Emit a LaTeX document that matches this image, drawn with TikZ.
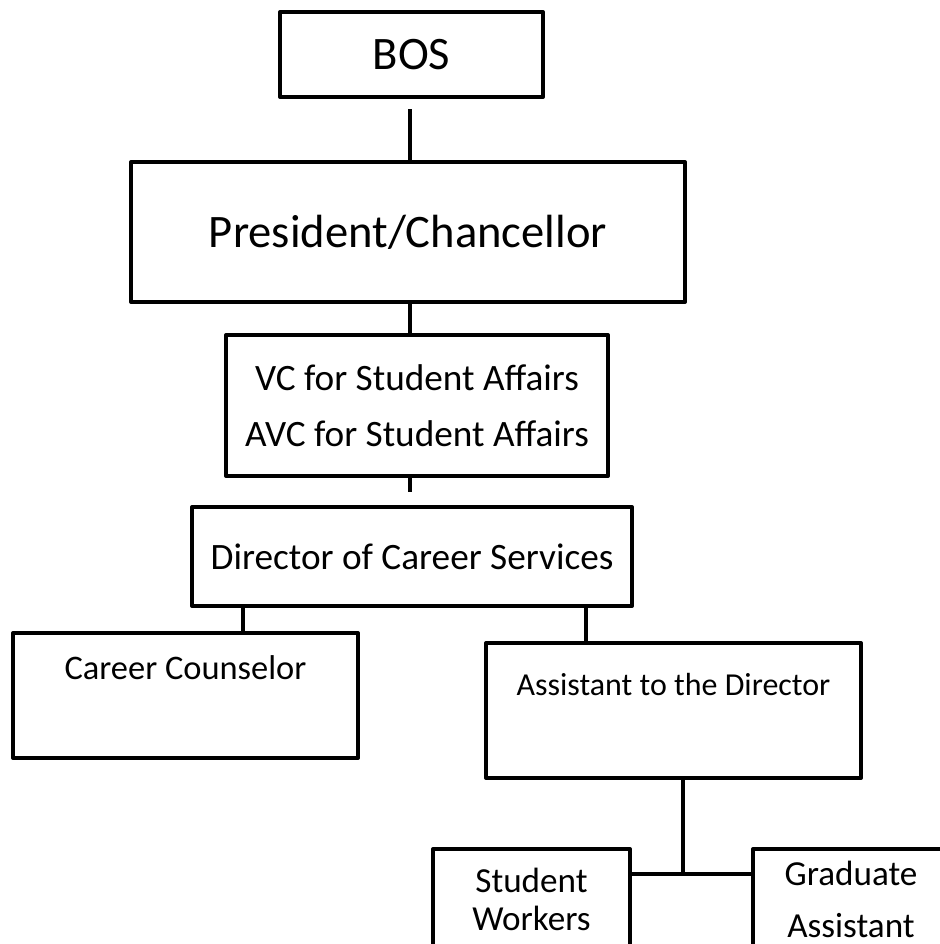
\documentclass[tikz,border=0pt]{standalone}
\usepackage{fontspec}
\setmainfont{Carlito}
\usetikzlibrary{positioning}
\tikzstyle{box} = [rectangle, draw, line width=2.3pt, line join=round, inner sep=0pt, align=center, text centered]
\tikzstyle{link} = [line width=2.3pt]

\begin{document}
\begin{tikzpicture}[x=0.02cm, y=-0.02cm]
            \useasboundingbox (0,0) rectangle (940,944);
            \clip (0,0) rectangle (940,944);

            \node (bos)   [box, minimum width=5.26cm, minimum height=1.70cm, font=\fontsize{26.5}{31}\selectfont] at (411.5,54.5) {BOS};
            \node (pres)  [box, minimum width=11.08cm, minimum height=2.80cm, font=\fontsize{26.5}{31}\selectfont] at (408,232) {President/Chancellor};
            \node (vcsa)  [box, minimum width=7.64cm, minimum height=2.82cm, font=\fontsize{21.2}{31.7}\selectfont] at (417,405.5) {VC for Student Affairs\\AVC for Student Affairs};
            \node (dir)   [box, minimum width=8.80cm, minimum height=1.98cm, font=\fontsize{21.2}{25}\selectfont] at (412,556.5) {Director of Career Services};
            \node (couns) [box, minimum width=6.90cm, minimum height=2.50cm, text height=14pt, text depth=32.7pt, font=\fontsize{19.6}{23}\selectfont] at (185.5,695.5) {Career Counselor};
            \node (asst)  [box, minimum width=7.50cm, minimum height=2.70cm, text height=13pt, text depth=30.6pt, font=\fontsize{18.2}{22}\selectfont] at (673.5,710.5) {Assistant to the Director};
            \node (stud)  [box, minimum width=3.94cm, minimum height=2.02cm, font=\fontsize{20}{21.5}\selectfont] at (531.5,899.5) {Student\\Workers};
            \node (grad)  [box, minimum width=3.92cm, minimum height=2.02cm, font=\fontsize{20}{30}\selectfont] at (851,899.5) {Graduate\\Assistant};

            % junction points of the connectors
            \coordinate (top)  at (410,0);
            \coordinate (left) at (243,0);
            \coordinate (right) at (586,0);
            \coordinate (join) at (683,874);

            \draw [link, shorten <=5.7pt] (bos.south -| top) -- (pres.north -| top);
            \draw [link] (pres.south -| top) -- (vcsa.north -| top);
            \draw [link, shorten >=7.4pt] (vcsa.south -| top) -- (dir.north -| top);
            \draw [link] (dir.south -| left)  -- (couns.north -| left);
            \draw [link] (dir.south -| right) -- (asst.north -| right);
            \draw [link] (asst.south -| join) -- (join);
            \draw [link] (stud.east |- join) -- (grad.west |- join);
        \end{tikzpicture}
\end{document}
